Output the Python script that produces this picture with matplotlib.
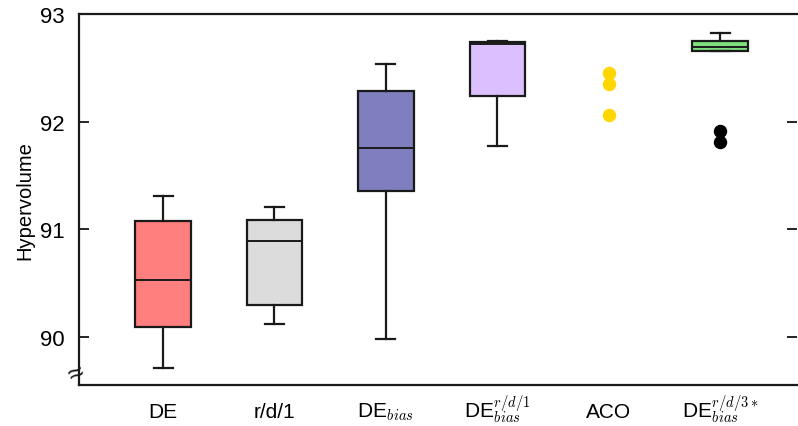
import matplotlib
matplotlib.use("Agg")
import matplotlib.pyplot as plt

plt.rcParams['font.family'] = ['Liberation Sans', 'DejaVu Sans']
plt.rcParams['mathtext.fontset'] = 'cm'

labels = ['DE', 'r/d/1', 'DE$_{bias}$', 'DE$^{r/d/1}_{bias}$', 'ACO', 'DE$^{r/d/3*}_{bias}$']
label_pos = [1, 2, 3, 4, 5, 6]

# box statistics (whisker low, Q1, median, Q3, whisker high)
box_names = ['DE', 'r/d/1', 'DE_bias', 'DE_bias_rd1', 'DE_bias_rd3']
box_pos = [1, 2, 3, 4, 6]
whislo = [89.716, 90.122, 89.980, 91.777, 92.656]
q1 = [90.091, 90.301, 91.359, 92.236, 92.656]
med = [90.530, 90.892, 91.756, 92.721, 92.694]
q3 = [91.081, 91.085, 92.288, 92.743, 92.746]
whishi = [91.313, 91.205, 92.536, 92.750, 92.821]
box_colors = ['#FF7F7F', '#DCDCDC', '#7F7FBF', '#DCBFFF', '#7FDF7F']

# outliers of last box
fliers_last = [91.916, 91.809]

# ACO values (shown as points)
aco_pos = 5
aco_vals = [92.452, 92.347, 92.059]

fig = plt.figure(figsize=(7.98, 4.27), dpi=100)
ax = fig.add_axes([0.099, 0.096, 0.9, 0.869])

stats = []
for i, n in enumerate(box_names):
    stats.append(dict(label=n, whislo=whislo[i], q1=q1[i], med=med[i],
                      q3=q3[i], whishi=whishi[i], fliers=[]))
bp = ax.bxp(stats, positions=box_pos, widths=0.5, patch_artist=True,
            showfliers=False, capwidths=0.17,
            boxprops=dict(linewidth=1.6, edgecolor='#1a1a1a'),
            medianprops=dict(color='#1a1a1a', linewidth=1.4),
            whiskerprops=dict(color='#1a1a1a', linewidth=1.6),
            capprops=dict(color='#1a1a1a', linewidth=1.6))
for patch, c in zip(bp['boxes'], box_colors):
    patch.set_facecolor(c)

ax.scatter([6] * len(fliers_last), fliers_last, s=75, color='black', zorder=3)
ax.scatter([aco_pos] * len(aco_vals), aco_vals, s=75, color='#FFD700', zorder=3)

ax.set_xlim(0.246, 6.69)
ax.set_ylim(89.555, 93)
ax.set_xticks(label_pos)
ax.set_xticklabels([''] * len(label_pos))
for p, lab in zip(label_pos, labels):
    ax.text(p, -0.086, lab, transform=ax.get_xaxis_transform(), fontsize=15,
            ha='center', va='baseline')
ax.set_yticks([90, 91, 92, 93])
ax.set_yticklabels(['90', '91', '92', '93'], fontsize=16)
ax.set_ylabel('Hypervolume', fontsize=14.5, labelpad=4)

ax.tick_params(axis='x', length=0, pad=8)
ax.tick_params(axis='y', direction='in', length=7, width=1.2, right=True, pad=10)
ax.spines['right'].set_visible(False)
for s in ['left', 'bottom', 'top']:
    ax.spines[s].set_linewidth(1.6)
    ax.spines[s].set_color('#1a1a1a')

# axis break mark
ax.text(-0.004, 0.03, '≈', transform=ax.transAxes, fontsize=20, ha='center', va='center',
        rotation=25, color='#1a1a1a')

fig.savefig('out.png', dpi=100)
